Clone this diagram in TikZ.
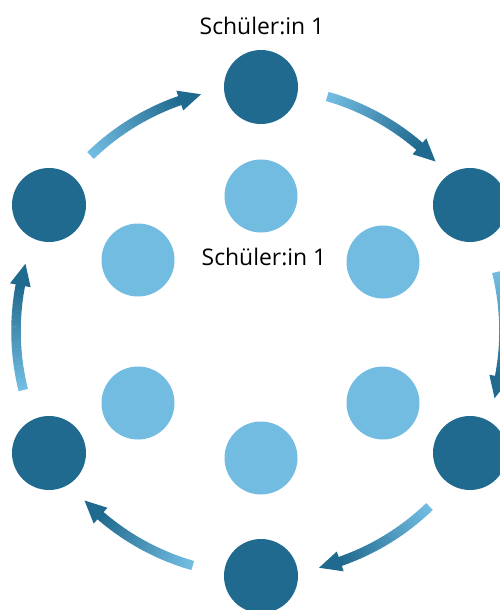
\documentclass[tikz,border=0pt]{standalone}
\usepackage{fontspec}
\setmainfont{Open Sans}
\definecolor{darkblue}{RGB}{33,106,143}
\definecolor{lightblue}{RGB}{114,188,226}
\tikzset{
  darkdot/.style = {circle, fill = darkblue, minimum size = 74bp, inner sep = 0pt},
  lightdot/.style = {circle, fill = lightblue, minimum size = 73bp, inner sep = 0pt},
  pupil/.style = {font = \fontsize{23}{27}\selectfont, inner sep = 0pt, anchor = base}
}
\begin{document}
\begin{tikzpicture}[x = 1bp, y = 1bp]
  \useasboundingbox (0,0) rectangle (500,-610);
  % draw outer ring of pupils
  \node[darkdot] (top) at (261,-87) {};
  \node[darkdot] (upright) at (470,-205) {};
  \node[darkdot] (lowright) at (470,-453) {};
  \node[darkdot] (bottom) at (261,-576) {};
  \node[darkdot] (lowleft) at (49,-453) {};
  \node[darkdot] (upleft) at (49,-205) {};
  % draw inner ring of pupils
  \node[lightdot] (itop) at (261,-196) {};
  \node[lightdot] (iupright) at (383,-262) {};
  \node[lightdot] (ilowright) at (383,-403) {};
  \node[lightdot] (ibottom) at (261,-458) {};
  \node[lightdot] (ilowleft) at (138,-403) {};
  \node[lightdot] (iupleft) at (138,-260) {};
  % draw labels
  \node[pupil] (toplabel) at (262,-35) {Schüler:in 1};
  \node[pupil] (midlabel) at (264,-265) {Schüler:in 1};
  % draw arrows, light at the tail and dark at the tip
  \begin{scope}[shift = {(260,-331)}]
    \foreach \m in {120,60,0,-60,-120,180}{
      \foreach \i in {0,...,24}{
        \pgfmathtruncatemacro{\p}{100*\i/24}
        \draw[line width = 9.5bp, darkblue!\p!lightblue]
        (\m+14-\i:244) arc[start angle = \m+14-\i, end angle = \m+12.9-\i, radius = 244];
      }
      \fill[darkblue] (\m-16:244) -- (\m-10.8:254.5) -- (\m-10.8:233.5) -- cycle;
    }
  \end{scope}
\end{tikzpicture}
\end{document}
